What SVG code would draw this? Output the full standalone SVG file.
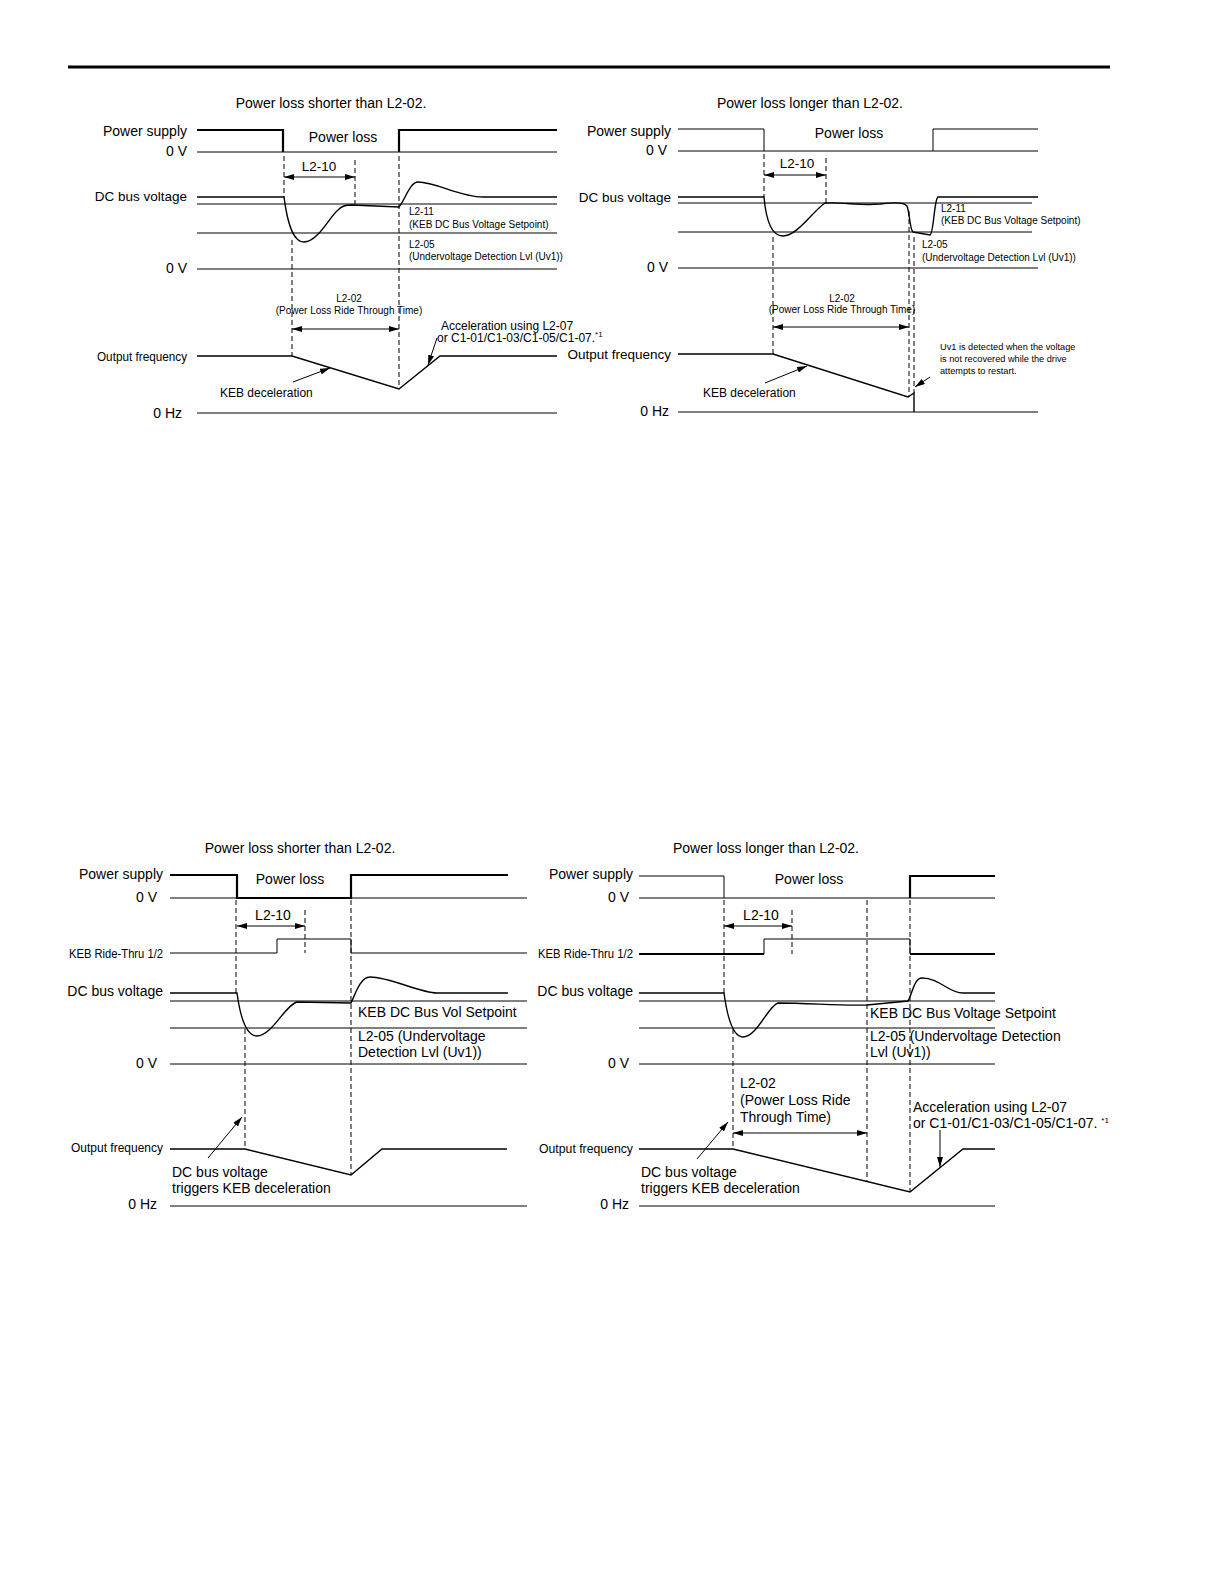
<svg xmlns="http://www.w3.org/2000/svg" width="1224" height="1584" viewBox="0 0 1224 1584">
<style>
text{font-family:"Liberation Sans",Arial,sans-serif;fill:#000}
.l{stroke:#000;stroke-width:1;fill:none}
.t{stroke:#000;stroke-width:2.2;fill:none}
.c{stroke:#000;stroke-width:1.4;fill:none}
.d{stroke:#000;stroke-width:1;stroke-dasharray:5,3;fill:none}
.a{stroke:#000;stroke-width:1;fill:none;marker-end:url(#ah)}
.da{stroke:#000;stroke-width:1;fill:none;marker-start:url(#dh);marker-end:url(#dh)}
.r{text-anchor:end}
.m{text-anchor:middle}
.s14{font-size:14px}
.s13{font-size:13.5px}
.s12{font-size:12px}
.s10{font-size:10px}
.s9{font-size:9.2px}
</style>
<defs>
<marker id="ah" viewBox="0 0 10 6" refX="10" refY="3" markerWidth="10" markerHeight="6" markerUnits="userSpaceOnUse" orient="auto"><path d="M0,0 L10,3 L0,6 z" fill="#000"/></marker>
<marker id="dh" viewBox="0 0 10 6" refX="10" refY="3" markerWidth="10" markerHeight="6" markerUnits="userSpaceOnUse" orient="auto-start-reverse"><path d="M0,0 L10,3 L0,6 z" fill="#000"/></marker>
</defs>
<rect width="1224" height="1584" fill="#fff"/>
<line x1="68" y1="67" x2="1110" y2="67" stroke="#000" stroke-width="3"/>

<!-- Top-left panel -->
<g id="panel-top-left">
<text x="331" y="108" class="s14 m">Power loss shorter than L2-02.</text>
<text x="187" y="136" class="s14 r">Power supply</text>
<text x="187" y="156" class="s14 r">0 V</text>
<text x="343" y="142" class="s14 m">Power loss</text>
<text x="319" y="171" class="s13 m">L2-10</text>
<text x="187" y="201" class="s13 r">DC bus voltage</text>
<text x="409" y="215" class="s10">L2-11</text>
<text x="409" y="228" class="s10">(KEB DC Bus Voltage Setpoint)</text>
<text x="409" y="248" class="s10">L2-05</text>
<text x="409" y="260" class="s10">(Undervoltage Detection Lvl (Uv1))</text>
<text x="187" y="273" class="s14 r">0 V</text>
<text x="349" y="302" class="s10 m">L2-02</text>
<text x="349" y="314" class="s10 m">(Power Loss Ride Through Time)</text>
<text x="441" y="330" class="s12">Acceleration using L2-07</text>
<text x="437" y="342" class="s12">or C1-01/C1-03/C1-05/C1-07.<tspan font-size="8" dy="-5">*1</tspan></text>
<text x="187" y="361" class="s12 r" textLength="90" lengthAdjust="spacingAndGlyphs">Output frequency</text>
<text x="220" y="397" class="s12">KEB deceleration</text>
<text x="182" y="418" class="s14 r">0 Hz</text>
<path class="t" d="M197,130 H283 V152 M399,152 V130 H557"/>
<line class="l" x1="197" y1="152" x2="557" y2="152"/>
<line class="l" x1="197" y1="204" x2="557" y2="204"/>
<line class="l" x1="197" y1="233" x2="557" y2="233"/>
<line class="l" x1="197" y1="269" x2="557" y2="269"/>
<line class="l" x1="197" y1="413" x2="557" y2="413"/>
<path class="c" d="M197,197 H284 C287,220 292,242 304,242 C318,242 330,216 338,210 C342,206 345,205 352,205 L399,207 C405,200 410,182 418,182 C436,182 460,197 483,197 H557"/>
<path class="c" d="M197,356 H292 L399,389 L440,356 H557"/>
</g>

<!-- Top-right panel -->
<g id="panel-top-right">
<text x="810" y="108" class="s14 m">Power loss longer than L2-02.</text>
<text x="671" y="136" class="s14 r">Power supply</text>
<text x="667" y="155" class="s14 r">0 V</text>
<text x="849" y="138" class="s14 m">Power loss</text>
<text x="797" y="168" class="s13 m">L2-10</text>
<text x="671" y="202" class="s13 r">DC bus voltage</text>
<text x="941" y="212" class="s10">L2-11</text>
<text x="941" y="224" class="s10">(KEB DC Bus Voltage Setpoint)</text>
<text x="922" y="248" class="s10">L2-05</text>
<text x="922" y="261" class="s10">(Undervoltage Detection Lvl (Uv1))</text>
<text x="668" y="272" class="s14 r">0 V</text>
<text x="842" y="302" class="s10 m">L2-02</text>
<text x="842" y="313" class="s10 m">(Power Loss Ride Through Time)</text>
<text x="940" y="350" class="s9">Uv1 is detected when the voltage</text>
<text x="940" y="362" class="s9">is not recovered while the drive</text>
<text x="940" y="374" class="s9">attempts to restart.</text>
<text x="671" y="359" class="s13 r">Output frequency</text>
<text x="703" y="397" class="s12">KEB deceleration</text>
<text x="669" y="416" class="s14 r">0 Hz</text>
<path class="l" d="M678,129 H764 V151" stroke-width="1.4"/>
<path class="l" d="M933,151 V129 H1038" stroke-width="1.4"/>
<line class="l" x1="678" y1="151" x2="1038" y2="151"/>
<line class="l" x1="678" y1="203" x2="1032" y2="203"/>
<line class="l" x1="678" y1="232" x2="1032" y2="232"/>
<line class="l" x1="678" y1="268" x2="1038" y2="268"/>
<line class="l" x1="678" y1="412" x2="1038" y2="412"/>
<path class="c" d="M678,197 H764 C766,220 771,236 783,236 C797,236 812,212 825,203 C845,202 860,206 880,204 C895,202 905,203 907,206 C910,215 910,230 913,232 L930,235 C934,233 934,199 938,197 H1038"/>
<path class="c" d="M678,354 H773 L908,397 L914,393 V412"/>
</g>

<!-- Bottom-left panel -->
<g id="panel-bottom-left">
<text x="300" y="853" class="s14 m">Power loss shorter than L2-02.</text>
<text x="163" y="879" class="s14 r">Power supply</text>
<text x="157" y="902" class="s14 r">0 V</text>
<text x="290" y="884" class="s14 m">Power loss</text>
<text x="273" y="920" class="s14 m">L2-10</text>
<text x="163" y="958" class="s12 r" textLength="94" lengthAdjust="spacingAndGlyphs">KEB Ride-Thru 1/2</text>
<text x="163" y="996" class="s14 r">DC bus voltage</text>
<text x="358" y="1017" class="s14">KEB DC Bus Vol Setpoint</text>
<text x="358" y="1041" class="s14">L2-05 (Undervoltage</text>
<text x="358" y="1057" class="s14">Detection Lvl (Uv1))</text>
<text x="157" y="1068" class="s14 r">0 V</text>
<text x="163" y="1152" class="s12 r" textLength="92" lengthAdjust="spacingAndGlyphs">Output frequency</text>
<text x="172" y="1177" class="s14">DC bus voltage</text>
<text x="172" y="1193" class="s14">triggers KEB deceleration</text>
<text x="157" y="1209" class="s14 r">0 Hz</text>
<path class="t" d="M170,875 H237 V898 H351 V875 H508"/>
<line class="l" x1="170" y1="898" x2="527" y2="898"/>
<path class="l" d="M170,953 H277 V939 H351 V953 H527"/>
<line class="l" x1="170" y1="1001" x2="527" y2="1001"/>
<line class="l" x1="170" y1="1028" x2="527" y2="1028"/>
<line class="l" x1="170" y1="1064" x2="527" y2="1064"/>
<line class="l" x1="170" y1="1206" x2="527" y2="1206"/>
<path class="c" d="M170,993 H237 C240,1015 246,1036 257,1036 C272,1036 285,1005 297,1002 L351,1003 C355,995 360,977 370,977 C390,977 420,993 437,993 H508"/>
<path class="c" d="M170,1149 H245 L351,1175 L382,1149 H507"/>
</g>

<!-- Bottom-right panel -->
<g id="panel-bottom-right">
<text x="766" y="853" class="s14 m">Power loss longer than L2-02.</text>
<text x="633" y="879" class="s14 r">Power supply</text>
<text x="629" y="902" class="s14 r">0 V</text>
<text x="809" y="884" class="s14 m">Power loss</text>
<text x="761" y="920" class="s14 m">L2-10</text>
<text x="633" y="958" class="s12 r" textLength="95" lengthAdjust="spacingAndGlyphs">KEB Ride-Thru 1/2</text>
<text x="633" y="996" class="s14 r">DC bus voltage</text>
<text x="870" y="1018" class="s14">KEB DC Bus Voltage Setpoint</text>
<text x="870" y="1041" class="s14">L2-05 (Undervoltage Detection</text>
<text x="870" y="1057" class="s14">Lvl (Uv1))</text>
<text x="629" y="1068" class="s14 r">0 V</text>
<text x="740" y="1088" class="s14">L2-02</text>
<text x="740" y="1105" class="s14">(Power Loss Ride</text>
<text x="740" y="1122" class="s14">Through Time)</text>
<text x="913" y="1112" class="s14">Acceleration using L2-07</text>
<text x="913" y="1128" class="s14">or C1-01/C1-03/C1-05/C1-07. <tspan font-size="8" dy="-5">*1</tspan></text>
<text x="633" y="1153" class="s12 r" textLength="94" lengthAdjust="spacingAndGlyphs">Output frequency</text>
<text x="641" y="1177" class="s14">DC bus voltage</text>
<text x="641" y="1193" class="s14">triggers KEB deceleration</text>
<text x="629" y="1209" class="s14 r">0 Hz</text>
<path class="l" d="M639,876 H724 V898"/>
<path class="t" d="M910,898 V876 H995"/>
<line class="l" x1="639" y1="898" x2="995" y2="898"/>
<path class="t" d="M639,954 H764"/>
<path class="l" d="M764,954 V939 H910 V954"/>
<path class="t" d="M910,954 H995"/>
<line class="l" x1="639" y1="1001" x2="995" y2="1001"/>
<line class="l" x1="639" y1="1028" x2="995" y2="1028"/>
<line class="l" x1="639" y1="1064" x2="995" y2="1064"/>
<line class="l" x1="639" y1="1206" x2="995" y2="1206"/>
<path class="c" d="M639,993 H724 C727,1015 732,1037 743,1037 C757,1037 768,1006 778,1003 C810,1003 840,1006 867,1005 L908,1001 C912,995 914,978 922,978 C940,978 948,993 963,993 H995"/>
<path class="c" d="M639,1149 H733 L910,1192 L963,1149 H995"/>
</g>

<!-- Connectors: dimension arrows, pointers and dashed markers -->
<g id="connectors">
<line class="d" x1="284" y1="156" x2="284" y2="197"/>
<line class="d" x1="292" y1="240" x2="292" y2="356"/>
<line class="d" x1="355" y1="160" x2="355" y2="204"/>
<line class="d" x1="399" y1="156" x2="399" y2="389"/>
<line class="da" x1="284" y1="177" x2="355" y2="177"/>
<line class="da" x1="292" y1="329" x2="399" y2="329"/>
<line class="a" x1="437" y1="338" x2="428" y2="365"/>
<line class="a" x1="293" y1="382" x2="330" y2="368"/>

<line class="d" x1="764" y1="154" x2="764" y2="197"/>
<line class="d" x1="773" y1="237" x2="773" y2="354"/>
<line class="d" x1="826" y1="158" x2="826" y2="203"/>
<line class="d" x1="909" y1="211" x2="909" y2="397"/>
<line class="d" x1="914" y1="237" x2="914" y2="393"/>
<line class="da" x1="764" y1="175" x2="826" y2="175"/>
<line class="da" x1="773" y1="327" x2="909" y2="327"/>
<line class="a" x1="765" y1="383" x2="807" y2="366"/>
<line class="a" x1="930" y1="377" x2="915" y2="387"/>

<line class="d" x1="236" y1="900" x2="236" y2="993"/>
<line class="d" x1="245" y1="1029" x2="245" y2="1149"/>
<line class="d" x1="305" y1="910" x2="305" y2="953"/>
<line class="d" x1="351" y1="900" x2="351" y2="1175"/>
<line class="da" x1="237" y1="926" x2="305" y2="926"/>
<line class="a" x1="208" y1="1158" x2="242" y2="1117"/>

<line class="d" x1="724" y1="900" x2="724" y2="993"/>
<line class="d" x1="733" y1="1029" x2="733" y2="1149"/>
<line class="d" x1="792" y1="910" x2="792" y2="954"/>
<line class="d" x1="867" y1="900" x2="867" y2="1181"/>
<line class="d" x1="910" y1="900" x2="910" y2="1192"/>
<line class="da" x1="724" y1="926" x2="792" y2="926"/>
<line class="da" x1="733" y1="1133" x2="867" y2="1133"/>
<line class="a" x1="697" y1="1159" x2="728" y2="1122"/>
<line class="a" x1="940" y1="1130" x2="940" y2="1167"/>
</g>
</svg>
